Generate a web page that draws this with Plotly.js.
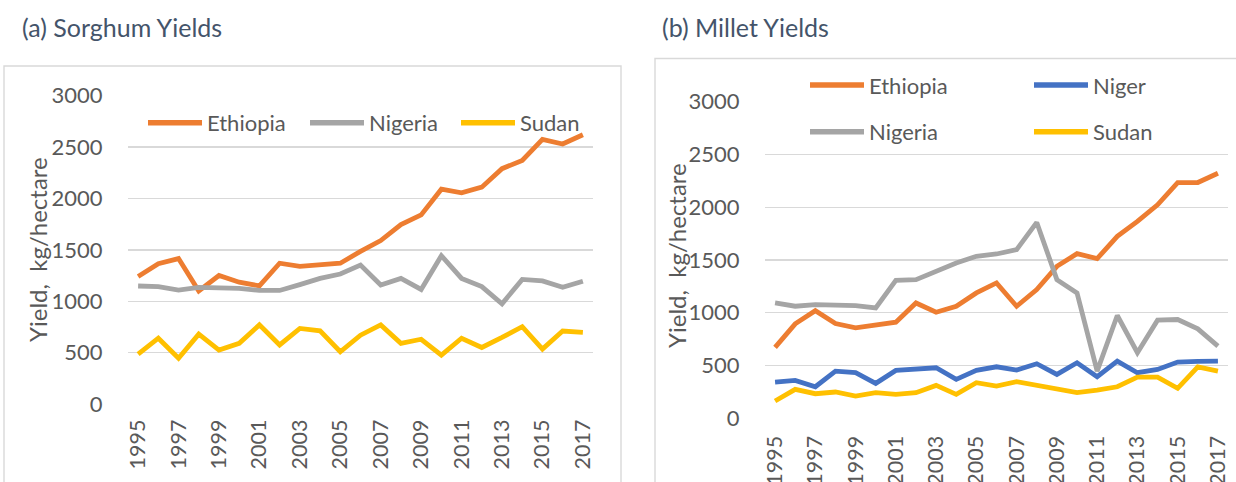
<!DOCTYPE html>
<html>
<head>
<meta charset="utf-8">
<script src="https://cdn.plot.ly/plotly-3.0.1.min.js"></script>
<style>html,body{margin:0;padding:0;background:#fff;}#chart{width:1236px;height:482px;}</style>
</head>
<body>
<div id="chart"></div>
<script>
// ---------- data ----------
var years = ['1995','1996','1997','1998','1999','2000','2001','2002','2003','2004','2005','2006',
             '2007','2008','2009','2010','2011','2012','2013','2014','2015','2016','2017'];
var tickYears = ['1995','1997','1999','2001','2003','2005','2007','2009','2011','2013','2015','2017'];

// (a) Sorghum yields, kg/hectare
var sorghumEthiopia = [1240,1365,1415,1100,1250,1185,1150,1370,1340,1360,1370,1485,1590,1745,1840,2090,2055,2110,2290,2370,2575,2530,2620];
var sorghumNigeria  = [1148,1142,1108,1135,1130,1125,1105,1105,1162,1222,1265,1352,1158,1222,1115,1443,1222,1142,975,1212,1198,1135,1195];
var sorghumSudan    = [485,640,445,680,525,590,770,575,735,712,508,670,770,590,630,475,640,550,648,752,535,710,697];

// (b) Millet yields, kg/hectare
var milletEthiopia = [672,895,1020,898,857,889,911,1093,1005,1062,1188,1283,1062,1220,1440,1560,1513,1724,1866,2023,2234,2234,2322];
var milletNiger    = [343,359,299,447,432,331,454,463,479,369,454,488,457,517,416,526,394,542,432,463,533,539,542];
var milletNigeria  = [1093,1062,1078,1068,1068,1046,1308,1314,1393,1472,1535,1557,1598,1856,1314,1188,447,974,621,930,936,848,684];
var milletSudan    = [164,274,233,249,211,243,227,243,312,227,337,306,347,312,274,243,268,299,391,391,284,488,447];

var sorghumNames = ['Ethiopia','Nigeria','Sudan'];
var milletNames  = ['Ethiopia','Niger','Nigeria','Sudan'];
var titles = ['(a) Sorghum Yields','(b) Millet Yields'];
var yTitle = 'Yield,  kg/hectare';

// ---------- style ----------
var W = 1236, H = 482;
var px = function(x){ return x / W; };
var py = function(y){ return 1 - y / H; };
var colors = {Ethiopia:'#ED7D31', Nigeria:'#A5A5A5', Sudan:'#FFC000', Niger:'#4472C4'};
var FONT = 'Lato, "Open Sans", sans-serif';
var TXT = '#595959';
var GRID = '#D9D9D9';

function line(x, y, name, ax){
  return {x:x, y:y, name:name, type:'scatter', mode:'lines',
          xaxis:ax ? 'x'+ax : 'x', yaxis:ax ? 'y'+ax : 'y', showlegend:false,
          line:{color:colors[name], width:4.8}, hoverinfo:'x+y+name'};
}
var traces = [
  line(years, sorghumEthiopia, sorghumNames[0], ''),
  line(years, sorghumNigeria,  sorghumNames[1], ''),
  line(years, sorghumSudan,    sorghumNames[2], ''),
  line(years, milletEthiopia,  milletNames[0], '2'),
  line(years, milletNiger,     milletNames[1], '2'),
  line(years, milletNigeria,   milletNames[2], '2'),
  line(years, milletSudan,     milletNames[3], '2')
];

function xAxis(dom, tl, anchor){
  return {type:'category', domain:dom, range:[-0.5, years.length-0.5], tickmode:'array',
          tickvals:tickYears, ticktext:tickYears, tickangle:-90, showgrid:false, zeroline:false,
          showline:false, ticks:'outside', ticklen:tl, tickcolor:'rgba(0,0,0,0)',
          tickfont:{family:FONT, size:21.5, color:TXT}, anchor:anchor, fixedrange:true};
}
function yAxis(dom, anchor){
  return {domain:dom, range:[0,3000], dtick:500, tick0:0, showgrid:true, gridcolor:GRID, gridwidth:1.4,
          zeroline:false, showline:false, ticks:'outside', ticklen:20, tickcolor:'rgba(0,0,0,0)',
          tickfont:{family:FONT, size:22, color:TXT}, anchor:anchor, fixedrange:true};
}

var shapes = [
  {type:'rect', xref:'paper', yref:'paper', x0:px(4), x1:px(621), y0:py(490), y1:py(66),
   line:{color:GRID, width:1.4}, fillcolor:'rgba(0,0,0,0)'},
  {type:'rect', xref:'paper', yref:'paper', x0:px(655), x1:px(1245), y0:py(490), y1:py(58.5),
   line:{color:GRID, width:1.4}, fillcolor:'rgba(0,0,0,0)'}
];
var annotations = [
  {text:titles[0], xref:'paper', yref:'paper', x:px(20), y:py(27), xanchor:'left', yanchor:'middle',
   showarrow:false, font:{family:FONT, size:25, color:'#44546A'}},
  {text:titles[1], xref:'paper', yref:'paper', x:px(660), y:py(27), xanchor:'left', yanchor:'middle',
   showarrow:false, font:{family:FONT, size:25, color:'#44546A'}},
  {text:yTitle, xref:'paper', yref:'paper', x:px(37), y:py(250), textangle:-90, xanchor:'center', yanchor:'middle',
   showarrow:false, font:{family:FONT, size:24, color:TXT}},
  {text:yTitle, xref:'paper', yref:'paper', x:px(676), y:py(256), textangle:-90, xanchor:'center', yanchor:'middle',
   showarrow:false, font:{family:FONT, size:24, color:TXT}}
];

// manual legends (Excel style long swatches)
function legendItem(name, x, y){
  shapes.push({type:'line', xref:'paper', yref:'paper', x0:px(x), x1:px(x+54), y0:py(y), y1:py(y),
               line:{color:colors[name], width:5.5}});
  annotations.push({text:name, xref:'paper', yref:'paper', x:px(x+57), y:py(y), xanchor:'left', yanchor:'middle',
                    showarrow:false, font:{family:FONT, size:22, color:TXT}});
}
legendItem(sorghumNames[0], 148, 122.7);
legendItem(sorghumNames[1], 310, 122.7);
legendItem(sorghumNames[2], 461, 122.7);
legendItem(milletNames[0], 810, 85);
legendItem(milletNames[1], 1034, 85);
legendItem(milletNames[2], 810, 131.7);
legendItem(milletNames[3], 1034, 131.7);

var layout = {
  width:W, height:H, margin:{l:0, r:0, t:0, b:0}, paper_bgcolor:'#fff', plot_bgcolor:'rgba(0,0,0,0)',
  showlegend:false, font:{family:FONT, color:TXT},
  xaxis: xAxis([px(128), px(593)], 6, 'y'),
  yaxis: yAxis([py(404), py(95.7)], 'x'),
  xaxis2: xAxis([px(765), px(1228)], 8, 'y2'),
  yaxis2: yAxis([py(418.3), py(101.7)], 'x2'),
  shapes:shapes, annotations:annotations
};

Plotly.newPlot('chart', traces, layout, {displayModeBar:false, staticPlot:true});
</script>
</body>
</html>
